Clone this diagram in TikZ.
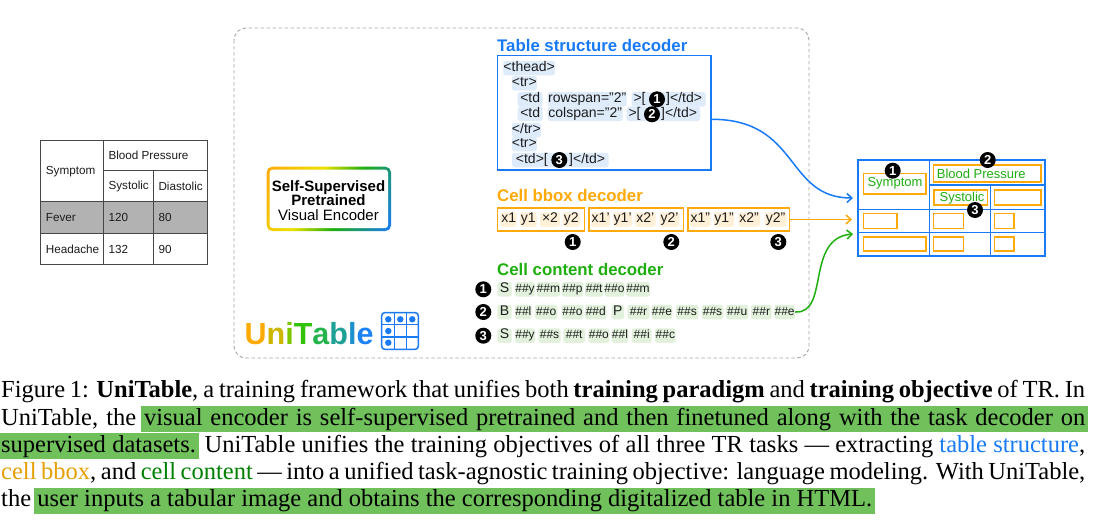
\documentclass[tikz,border=0pt]{standalone}
\usepackage{fontspec}
\setmainfont{Liberation Sans}
\newfontfamily\capfont{Liberation Serif}
\usetikzlibrary{arrows.meta}
\definecolor{ublue}{RGB}{24,122,245}
\definecolor{uorange}{RGB}{255,170,10}
\definecolor{ugreen}{RGB}{30,175,15}
\definecolor{uyellow}{RGB}{235,225,0}
\definecolor{cblue}{RGB}{222,235,250}
\definecolor{corange}{RGB}{255,240,215}
\definecolor{cgreen}{RGB}{225,241,220}
\definecolor{hl}{RGB}{112,192,92}
\definecolor{ink}{RGB}{28,28,28}
\pgfdeclarehorizontalshading{unigrad}{100bp}{color(0bp)=(uorange);color(17bp)=(uorange);color(41bp)=(uyellow);color(58bp)=(ugreen);color(83bp)=(ublue);color(100bp)=(ublue)}
\newcounter{chipno}
\newcommand{\fs}[1]{\fontsize{#1}{#1}\selectfont}
% \chip{x0}{x1}{ycentre}{fill}{size}{text}
\newcommand{\chip}[6]{\stepcounter{chipno}%
  \pgfmathsetmacro{\cw}{#2-#1}\pgfmathsetmacro{\cx}{(#1+#2)/2}%
  \node[chipbox,fill=#4,minimum width=\cw pt,font=\fs{#5}] (chip\thechipno) at (\cx,#3) {#6};}
\tikzset{
  chipbox/.style={inner sep=0,rounded corners=2.5,minimum height=14.5,text height=9.5,text depth=3,text=ink},
  codetxt/.style={inner sep=0,anchor=west,font=\fs{14},text=ink,text height=9.5,text depth=3},
  numdot/.style={circle,fill=black,text=white,inner sep=0,minimum size=16,font=\bfseries\fs{13}},
  heading/.style={inner sep=0,anchor=base west,font=\bfseries\fs{16.8}},
  obox/.style={draw=uorange,line width=1.6,inner sep=0},
  tbltxt/.style={inner sep=0,anchor=west,font=\fs{11.7},text=ink},
  celltxt/.style={inner sep=0,font=\fs{13},text=ugreen},
  capline/.style={inner sep=0,anchor=base west,font=\capfont\fs{24.5},text=black},
  conn/.style={line width=1.5,-{Straight Barb[length=5,width=9,line width=1.5]}},
}
\begin{document}
\begin{tikzpicture}[x=1pt,y=-1pt]
\useasboundingbox (0,0) rectangle (1093,525);
\fill[white] (0,0) rectangle (1093,525);
% input table
\fill[black!30] (40,201.7) rectangle (207.3,233.3);
\draw[line width=1,black!72] (40,140) rectangle (207.3,264.3);
\draw[line width=1,black!72] (103.3,140) -- (103.3,264.3) (153.3,170.7) -- (153.3,264.3)
  (103.3,170.7) -- (207.3,170.7) (40,201.7) -- (207.3,201.7) (40,233.3) -- (207.3,233.3);
\node[tbltxt] (t1) at (45.7,171.7) {Symptom};
\node[tbltxt] (t2) at (108.3,155) {Blood Pressure};
\node[tbltxt] (t3) at (108.3,186.7) {Systolic};
\node[tbltxt] (t4) at (158.3,186.7) {Diastolic};
\node[tbltxt] (t5) at (45.7,217.3) {Fever};
\node[tbltxt] (t6) at (108.3,217.3) {120};
\node[tbltxt] (t7) at (158.3,217.3) {80};
\node[tbltxt] (t8) at (45.7,249.3) {Headache};
\node[tbltxt] (t9) at (108.3,249.3) {132};
\node[tbltxt] (t10) at (158.3,249.3) {90};
% dashed frame
\draw[black!35,line width=.9,dash pattern=on 3.5pt off 2.5pt,rounded corners=12] (234,28) rectangle (809,358);
% encoder
\shade[shading=unigrad,shading angle=-27,rounded corners=5.5] (266.7,166.7) rectangle (391,231);
\fill[white,rounded corners=3.5] (269.5,169.5) rectangle (388.2,228.2);
\node[inner sep=0,align=center,text=black,font=\fontsize{15}{14.5}\selectfont] (enc) at (328.5,200.5)
 {\textbf{Self-Supervised}\\\textbf{Pretrained}\\Visual Encoder};
% logo
\node[inner sep=0,anchor=base west,font=\bfseries\fs{30.5}] (logo) at (244.5,344)
 {\textcolor[RGB]{255,170,0}{U}\textcolor[RGB]{205,182,0}{n}\textcolor[RGB]{125,200,0}{i}\textcolor[RGB]{50,195,10}{T}\textcolor[RGB]{35,180,75}{a}\textcolor[RGB]{30,160,150}{b}\textcolor[RGB]{30,145,205}{l}\textcolor[RGB]{28,130,245}{e}};
\draw[ublue,line width=1.5,rounded corners=3] (381.7,312.7) rectangle (418.3,349.3);
\draw[ublue,line width=1.3] (394.3,312.7) -- (394.3,349.3) (406.7,312.7) -- (406.7,349.3) (381.7,324.7) -- (418.3,324.7) (381.7,337) -- (418.3,337);
\foreach \px/\py in {388.3/319.3,400.3/319.3,412.3/319.3,388.3/331,388.3/342.7}
  \fill[ublue] (\px,\py) circle (3.2);
% structure decoder
\node[heading,text=ublue] (h1) at (497,51.5) {Table structure decoder};
\node[draw=ublue,line width=1.5,inner sep=0,minimum width=213.5,minimum height=114.3] (sd) at (604.2,112.8) {};
\chip{503.3}{555}{68}{cblue}{14}{<thead>}
\chip{512}{536.7}{83.3}{cblue}{14}{<tr>}
\chip{517.7}{542.7}{99.3}{cblue}{14}{<td}
\chip{547.7}{626.7}{99.3}{cblue}{14}{rowspan="2"}
\chip{631.7}{705.7}{99.3}{cblue}{14}{}
\chip{517.7}{542.7}{113.8}{cblue}{14}{<td}
\chip{547.7}{622.7}{113.8}{cblue}{14}{colspan="2"}
\chip{626.7}{700}{113.8}{cblue}{14}{}
\chip{512}{540.7}{130}{cblue}{14}{</tr>}
\chip{512}{536.7}{144}{cblue}{14}{<tr>}
\chip{512}{608.7}{160}{cblue}{14}{}
\node[codetxt] (a1) at (633.3,99.3) {>[};
\node[codetxt] (a2) at (666,99.3) {]</td>};
\node[codetxt] (b1) at (628.3,113.8) {>[};
\node[codetxt] (b2) at (661,113.8) {]</td>};
\node[codetxt] (c1) at (515.7,160) {<td>[};
\node[codetxt] (c2) at (569,160) {]</td>};
\node[numdot] (s1) at (657,99.3) {1};
\node[numdot] (s2) at (652,114.3) {2};
\node[numdot] (s3) at (559.3,160) {3};
% bbox decoder
\node[heading,text=uorange] (h2) at (497,201.7) {Cell bbox decoder};
\node[obox,minimum width=87,minimum height=23.3] (bb1) at (540.8,219.5) {};
\node[obox,minimum width=94.6,minimum height=23.3] (bb2) at (636,219.5) {};
\node[obox,minimum width=101.6,minimum height=23.3] (bb3) at (738.5,219.5) {};
\foreach \ax/\bx/\tx in {92/140/x1,150/200/y1,210/270/×2,278/330/y2,
  364/420/x1’,430/486/y1’,495/557/x2’,569/628/y2’,
  660/722/x1”,732/792/y1”,805/870/x2”,884/950/y2”}{
  \pgfmathsetmacro{\pa}{470+\ax/3}\pgfmathsetmacro{\pb}{470+\bx/3}
  \chip{\pa}{\pb}{219.5}{corange}{14}{\tx}
}
\node[numdot] (o1) at (572.7,242) {1};
\node[numdot] (o2) at (671.3,242) {2};
\node[numdot] (o3) at (778.3,242) {3};
% content decoder
\node[heading,text=ugreen] (h3) at (497,275) {Cell content decoder};
\node[numdot] (g1) at (483.3,289.3) {1};
\node[numdot] (g2) at (483.3,312) {2};
\node[numdot] (g3) at (483.3,335.7) {3};
\foreach \ax/\bx/\tx/\sz in {82/125/S/14,135/195/\#\#y/12,200/270/\#\#m/12,275/340/\#\#p/12,345/400/\#\#t/12,405/462/\#\#o/12,468/540/\#\#m/12}{
  \pgfmathsetmacro{\pa}{470+\ax/3}\pgfmathsetmacro{\pb}{470+\bx/3}
  \chip{\pa}{\pb}{289.3}{cgreen}{\sz}{\tx}
}
\foreach \ax/\bx/\tx/\sz in {82/125/B/14,135/185/\#\#l/12,195/262/\#\#o/12,275/340/\#\#o/12,345/410/\#\#d/12,425/462/P/14,473/538/\#\#r/12,545/607/\#\#e/12,618/685/\#\#s/12,695/760/\#\#s/12,768/835/\#\#u/12,843/905/\#\#r/12}{
  \pgfmathsetmacro{\pa}{470+\ax/3}\pgfmathsetmacro{\pb}{470+\bx/3}
  \chip{\pa}{\pb}{312}{cgreen}{\sz}{\tx}
}
\chip{774.3}{795}{312}{cgreen}{12}{\#\#e}
\coordinate (ce) at (chip\thechipno.east);
\foreach \ax/\bx/\tx/\sz in {82/125/S/14,135/195/\#\#y/12,205/272/\#\#s/12,280/345/\#\#t/12,355/418/\#\#o/12,425/475/\#\#l/12,485/545/\#\#i/12,555/617/\#\#c/12}{
  \pgfmathsetmacro{\pa}{470+\ax/3}\pgfmathsetmacro{\pb}{470+\bx/3}
  \chip{\pa}{\pb}{335.7}{cgreen}{\sz}{\tx}
}
% output table
\node[draw=ublue,line width=1.8,inner sep=0,minimum width=186.7,minimum height=96] (ot) at (951.7,208) {};
\draw[ublue,line width=1.6] (929.3,160) -- (929.3,256) (990.3,185) -- (990.3,256)
  (929.3,185) -- (1045,185) (858.3,209.3) -- (1045,209.3) (858.3,232.3) -- (1045,232.3);
\foreach \xa/\ya/\xb/\yb in {863.3/173.3/925.7/194,933.3/164.7/1040.7/181.7,933.7/190/987.3/205,994.3/190/1040.7/205,
  863.3/213.3/896.7/228.3,933.3/213.3/963.3/228.3,994.3/213.3/1013.7/228.3,
  863.3/236.7/925.7/251,933.3/236.7/963.3/251,994.3/236.7/1013.7/251}
  \draw[uorange,line width=1.6] (\xa,\ya) rectangle (\xb,\yb);
\node[celltxt] (o4) at (895,183.8) {Symptom};
\node[celltxt] (o5) at (981.3,174) {Blood Pressure};
\node[celltxt] (o6) at (962,197.7) {Systolic};
\node[numdot] (r1) at (892.7,170.7) {1};
\node[numdot] (r2) at (987.7,160) {2};
\node[numdot] (r3) at (975,210) {3};
% connectors
\coordinate (tipb) at (853,198);
\coordinate (tipo) at (852,219.5);
\coordinate (tipg) at (853,234);
\draw[conn,ublue] ([yshift=-6.5pt]sd.east) .. controls (800,119.3) and (785,198) .. (tipb);
\draw[conn,uorange] (bb3.east) -- (tipo);
\draw[conn,ugreen] (ce) .. controls (830,314) and (805,238) .. (tipg);
% caption
\fill[hl] (141,405.7) rectangle (1088,432.4);
\fill[hl] (0,432.6) rectangle (199,459.3);
\fill[hl] (34.3,487.7) rectangle (874.7,514);
\node[capline] (l1) at (1,397.5) {\makebox[1084pt][s]{Figure 1: \textbf{UniTable}, a training framework that unifies both \textbf{training paradigm} and \textbf{training objective} of TR. In}};
\node[capline] (l2) at (1,425) {\makebox[1084pt][s]{UniTable, the visual encoder is self-supervised pretrained and then finetuned along with the task decoder on}};
\node[capline] (l3) at (1,452) {\makebox[1084pt][s]{supervised datasets. UniTable unifies the training objectives of all three TR tasks — extracting \textcolor{ublue}{table structure},}};
\node[capline] (l4) at (1,479) {\makebox[1084pt][s]{\textcolor[RGB]{230,159,0}{cell bbox}, and \textcolor[RGB]{0,128,0}{cell content} — into a unified task-agnostic training objective: language modeling. With UniTable,}};
\node[capline] (l5) at (1,506) {the user inputs a tabular image and obtains the corresponding digitalized table in HTML.};
\end{tikzpicture}
\end{document}
